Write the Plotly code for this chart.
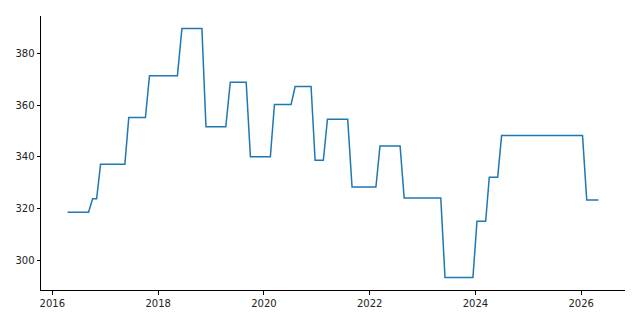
import plotly.graph_objects as go
import pandas as pd

dates = ["2016-04-15", "2016-09-07", "2016-10-05", "2016-11-02", "2016-11-29",
         "2017-05-16", "2017-06-12", "2017-10-05", "2017-11-02", "2018-05-14",
         "2018-06-14", "2018-10-30", "2018-11-27", "2019-04-13", "2019-05-14",
         "2019-09-01", "2019-09-30", "2020-02-15", "2020-03-14", "2020-07-07",
         "2020-08-04", "2020-11-22", "2020-12-20", "2021-02-15", "2021-03-15",
         "2021-08-02", "2021-09-01", "2022-02-13", "2022-03-13", "2022-07-30",
         "2022-08-27", "2023-05-07", "2023-06-05", "2023-12-15", "2024-01-12",
         "2024-03-12", "2024-04-06", "2024-06-03", "2024-06-30", "2026-01-10",
         "2026-02-08", "2026-04-30"]
values = [318.7, 318.7, 323.9, 323.9, 337.2,
          337.2, 355.2, 355.2, 371.3, 371.3,
          389.5, 389.5, 351.6, 351.6, 368.8,
          368.8, 340.1, 340.1, 360.2, 360.2,
          367.1, 367.1, 338.7, 338.7, 354.5,
          354.5, 328.4, 328.4, 344.2, 344.2,
          324.2, 324.2, 293.5, 293.5, 315.2,
          315.2, 332.2, 332.2, 348.2, 348.2,
          323.4, 323.4]
x_ticks = ["2016-01-01", "2018-01-01", "2020-01-01", "2022-01-01", "2024-01-01", "2026-01-01"]
x_tick_labels = ["2016", "2018", "2020", "2022", "2024", "2026"]
y_ticks = [300, 320, 340, 360, 380]

d = pd.to_datetime(dates)
span = d.max() - d.min()
xr = [d.min() - span * 0.05, d.max() + span * 0.05]
vmin, vmax = min(values), max(values)
vs = vmax - vmin
yr = [vmin - vs * 0.05, vmax + vs * 0.05]

fig = go.Figure()
fig.add_trace(go.Scatter(x=d, y=values, mode="lines",
                         line=dict(color="#1f77b4", width=1.5), showlegend=False))

axis_common = dict(showgrid=False, zeroline=False, showline=True, linecolor="black",
                   linewidth=1, ticks="outside", ticklen=3.5, tickwidth=1, tickcolor="black",
                   tickfont=dict(family="DejaVu Sans", size=10, color="#222222"))
fig.update_xaxes(range=xr, tickvals=pd.to_datetime(x_ticks), ticktext=x_tick_labels, **axis_common)
fig.update_yaxes(range=yr, tickvals=y_ticks, **axis_common)
fig.update_layout(width=640, height=320, margin=dict(l=41, r=15, t=16, b=30),
                  plot_bgcolor="white", paper_bgcolor="white")
fig.write_html("out.html")
